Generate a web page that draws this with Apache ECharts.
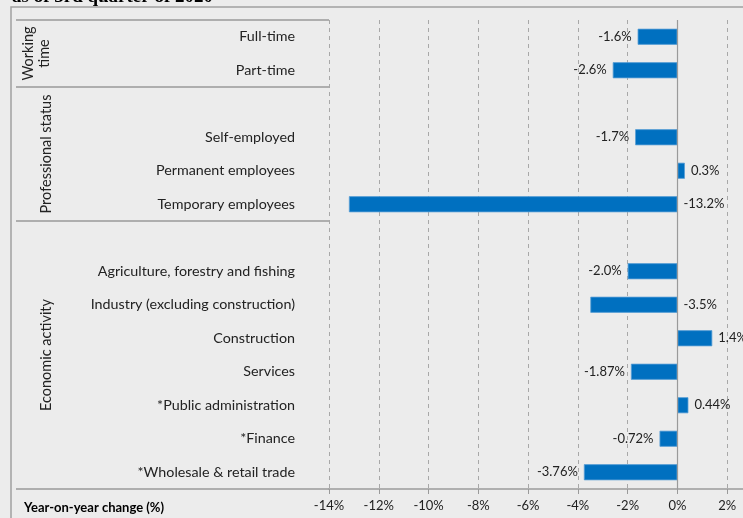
<!DOCTYPE html>
<html>
<head>
<meta charset="utf-8">
<script src="https://cdn.jsdelivr.net/npm/echarts@6/dist/echarts.min.js"></script>
<style>
  html, body { margin: 0; padding: 0; background: #ececec; }
  #chart { width: 743px; height: 518px; }
</style>
</head>
<body>
<div id="chart"></div>
<script>
var dom = document.getElementById('chart');
var myChart = echarts.init(dom);

// rows from top to bottom, blank rows separate the groups
var categories = [
    'Full-time', 'Part-time', ' ',
    'Self-employed', 'Permanent employees', 'Temporary employees', '  ',
    'Agriculture, forestry and fishing', 'Industry (excluding construction)',
    'Construction', 'Services', '*Public administration', '*Finance',
    '*Wholesale & retail trade'
];
var values = [-1.6, -2.6, null, -1.7, 0.3, -13.2, null, -2.0, -3.5, 1.4, -1.87, 0.44, -0.72, -3.76];
var decimals = [1, 1, 0, 1, 1, 1, 0, 1, 1, 1, 2, 2, 2, 2];
var labelPos = ['left', 'left', 'left', 'left', 'right', 'right', 'left', 'left', 'right', 'right', 'left', 'right', 'left', 'left'];

// groups: [label, first row, row after last]
var groups = [
    ['Working\ntime', 0, 2],
    ['Professional status', 2, 6],
    ['Economic activity', 6, 14]
];

var xTicks = { min: -14, max: 4, interval: 2 };

var font = 'Lato';
var txt = '#222';
var lineGray = '#9a9a9a';

var barData = values.map(function (v, i) {
    return {
        value: v,
        label: { position: labelPos[i] }
    };
});

option = {
    backgroundColor: '#ececec',
    animation: false,
    textStyle: { fontFamily: font },
    grid: {
        left: 329,
        top: 20,
        width: 448,
        height: 469,
        containLabel: false,
        outerBoundsMode: 'none'
    },
    xAxis: {
        type: 'value',
        min: xTicks.min,
        max: xTicks.max,
        interval: xTicks.interval,
        axisLine: { show: true, lineStyle: { color: lineGray, width: 1.5 } },
        axisTick: { show: true, length: 5, lineStyle: { color: lineGray } },
        axisLabel: {
            margin: 10,
            color: txt,
            fontSize: 13,
            fontFamily: font,
            formatter: function (v) { return v + '%'; }
        },
        splitLine: {
            show: true,
            lineStyle: { color: '#a8a8a8', type: [4, 4] }
        }
    },
    yAxis: {
        type: 'category',
        inverse: true,
        data: categories,
        axisLine: { show: false },
        axisTick: { show: false },
        axisLabel: {
            margin: 34,
            color: txt,
            fontSize: 14.3,
            fontFamily: font
        }
    },
    series: [{
        type: 'bar',
        data: barData,
        barWidth: '48%',
        itemStyle: {
            color: '#0070c0',
            borderColor: '#5b9fd6',
            borderWidth: 0.8
        },
        label: {
            show: true,
            distance: 6,
            color: txt,
            fontSize: 13,
            fontFamily: font,
            formatter: function (p) {
                if (p.value == null) return '';
                return p.value.toFixed(decimals[p.dataIndex]) + '%';
            }
        },
        markLine: {
            silent: true,
            symbol: 'none',
            label: { show: false },
            lineStyle: { color: lineGray, type: 'solid', width: 1.2 },
            data: [{ xAxis: 0 }]
        }
    }]
};
myChart.setOption(option);

// table lines and group labels in the category area, placed from the axis
var c0 = myChart.convertToPixel({ yAxisIndex: 0 }, 0);
var c1 = myChart.convertToPixel({ yAxisIndex: 0 }, 1);
var rowH = c1 - c0;
function edge(i) { return c0 + (i - 0.5) * rowH; }
var tableLeft = 16;
var plotLeft = option.grid.left;

var graphics = [
    {
        type: 'rect',
        shape: { x: 11, y: 7, width: 800, height: 600 },
        style: { fill: null, stroke: '#a0a0a0', lineWidth: 1.5 },
        z: 1
    },
    {
        type: 'text',
        left: 12,
        top: -12,
        style: {
            text: 'as of 3rd quarter of 2020',
            fill: '#000',
            font: 'bold 19px "Liberation Serif"'
        }
    },
    {
        type: 'text',
        x: 24,
        y: 508,
        style: {
            text: 'Year-on-year change (%)',
            fill: '#000',
            font: 'bold 13px ' + font,
            verticalAlign: 'middle'
        }
    },
    {
        type: 'line',
        shape: { x1: tableLeft, y1: edge(14), x2: plotLeft, y2: edge(14) },
        style: { stroke: lineGray, lineWidth: 1.5 }
    },
    {
        type: 'line',
        shape: { x1: tableLeft, y1: edge(0), x2: plotLeft, y2: edge(0) },
        style: { stroke: lineGray, lineWidth: 1.5 }
    }
];
groups.forEach(function (g, k) {
    var yTop = edge(g[1]);
    var yBot = edge(g[2]);
    if (k > 0) {
        graphics.push({
            type: 'line',
            shape: { x1: tableLeft, y1: yTop, x2: plotLeft, y2: yTop },
            style: { stroke: lineGray, lineWidth: 1.5 }
        });
    }
    graphics.push({
        type: 'text',
        x: k === 0 ? 36 : 46,
        y: (yTop + yBot) / 2,
        rotation: Math.PI / 2,
        style: {
            text: g[0],
            fill: txt,
            font: '14.5px ' + font,
            align: 'center',
            verticalAlign: 'middle',
            lineHeight: 16
        }
    });
});
myChart.setOption({ graphic: graphics });
</script>
</body>
</html>
